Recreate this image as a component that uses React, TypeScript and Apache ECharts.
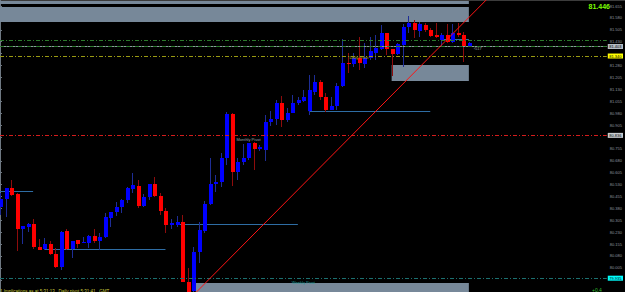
import { useEffect, useRef } from 'react';
import * as echarts from 'echarts';

// ---- candle data (index 0..85), prices ----
const candleOpen = [80.389, 80.439, 80.509, 80.471, 80.250, 80.263, 80.282, 80.137, 80.124, 80.156, 80.093, 80.011, 80.238, 80.124, 80.181, 80.162, 80.162, 80.206, 80.175, 80.200, 80.320, 80.357, 80.389, 80.433, 80.502, 80.521, 80.395, 80.452, 80.534, 80.458, 80.364, 80.276, 80.276, 80.294, 79.916, 79.860, 80.105, 80.238, 80.408, 80.534, 80.546, 80.698, 80.975, 80.609, 80.672, 80.698, 80.792, 80.754, 80.748, 80.924, 80.943, 81.044, 80.937, 80.981, 81.044, 81.057, 80.994, 81.113, 81.176, 81.082, 81.000, 81.025, 81.151, 81.299, 81.290, 81.328, 81.290, 81.328, 81.359, 81.384, 81.485, 81.384, 81.353, 81.410, 81.523, 81.548, 81.498, 81.536, 81.504, 81.473, 81.441, 81.473, 81.428, 81.485, 81.473, 81.403];
const candleClose = [80.439, 80.509, 80.465, 80.250, 80.269, 80.282, 80.137, 80.118, 80.156, 80.093, 80.011, 80.231, 80.124, 80.175, 80.156, 80.168, 80.206, 80.175, 80.200, 80.326, 80.357, 80.389, 80.433, 80.509, 80.528, 80.395, 80.452, 80.534, 80.458, 80.364, 80.276, 80.288, 80.294, 79.916, 79.853, 80.105, 80.244, 80.408, 80.534, 80.546, 80.698, 80.975, 80.609, 80.672, 80.698, 80.792, 80.754, 80.767, 80.924, 80.943, 81.044, 80.937, 80.981, 81.044, 81.063, 81.082, 81.126, 81.176, 81.082, 81.000, 81.025, 81.151, 81.296, 81.293, 81.328, 81.296, 81.328, 81.372, 81.391, 81.485, 81.384, 81.353, 81.416, 81.523, 81.548, 81.504, 81.542, 81.504, 81.466, 81.460, 81.473, 81.428, 81.485, 81.473, 81.397, 81.422];
const candleLow = [80.339, 80.326, 80.458, 80.112, 80.156, 80.231, 80.124, 80.118, 80.118, 80.087, 80.005, 79.992, 80.118, 80.068, 80.131, 80.162, 80.131, 80.162, 80.118, 80.194, 80.263, 80.332, 80.351, 80.414, 80.477, 80.383, 80.389, 80.433, 80.452, 80.339, 80.225, 80.250, 80.263, 79.916, 79.853, 79.853, 80.036, 80.225, 80.402, 80.483, 80.515, 80.654, 80.521, 80.559, 80.654, 80.685, 80.622, 80.742, 80.679, 80.899, 80.906, 80.893, 80.924, 80.981, 81.032, 81.050, 80.969, 81.095, 81.063, 80.987, 81.000, 81.000, 81.145, 81.233, 81.271, 81.252, 81.265, 81.315, 81.315, 81.378, 81.347, 81.214, 81.347, 81.271, 81.485, 81.454, 81.460, 81.491, 81.460, 81.454, 81.397, 81.422, 81.422, 81.460, 81.302, 81.397];
const candleHigh = [80.477, 80.509, 80.559, 80.477, 80.269, 80.288, 80.313, 80.187, 80.194, 80.175, 80.131, 80.238, 80.250, 80.175, 80.181, 80.200, 80.213, 80.250, 80.225, 80.351, 80.357, 80.420, 80.439, 80.515, 80.603, 80.559, 80.471, 80.534, 80.578, 80.477, 80.383, 80.313, 80.332, 80.339, 80.005, 80.137, 80.294, 80.427, 80.698, 80.591, 80.729, 80.987, 80.981, 80.698, 80.786, 80.792, 80.798, 80.780, 80.969, 80.994, 81.063, 81.088, 81.013, 81.095, 81.082, 81.126, 81.221, 81.221, 81.189, 81.107, 81.082, 81.170, 81.447, 81.359, 81.359, 81.460, 81.422, 81.460, 81.473, 81.536, 81.485, 81.384, 81.422, 81.542, 81.592, 81.567, 81.554, 81.548, 81.517, 81.548, 81.485, 81.542, 81.542, 81.548, 81.491, 81.428];

// ---- price axis ----
const yMin = 79.853;
const yMax = 81.693;
const xSlots = 110;
const yTicks = [81.655, 81.58, 81.505, 81.43, 81.355, 81.28, 81.205, 81.13, 81.055, 80.98, 80.905, 80.83, 80.755, 80.68, 80.605, 80.53, 80.455, 80.38, 80.305, 80.23, 80.155, 80.08, 80.005, 79.93];
// labels hidden under the level boxes in the reference are left out
const yTickLabels = [81.655, 81.58, 81.505, 81.43, 81.28, 81.205, 81.13, 81.055, 80.98, 80.905, 80.755, 80.68, 80.605, 80.53, 80.455, 80.38, 80.305, 80.23, 80.155, 80.08, 80.005];

// ---- zones (rectangles) ----
const zoneStart = [0, 0, 71, 35.5];
const zoneEnd = [85, 85, 85, 85];
const zoneTop = [81.687, 81.649, 81.284, 79.91];
const zoneBottom = [81.668, 81.554, 81.183, 79.853];

// ---- horizontal segments ----
const segStart = [0, 8, 32, 56, 80];
const segEnd = [6, 30, 54, 78, 85];
const segLevel = [80.49, 80.124, 80.282, 80.994, 81.447];

// ---- full-width levels ----
const levelNames = ['upper', 'bid', 'lower', 'daily', 'monthly', 'weekly'];
const levelValues = [81.441, 81.403, 81.397, 81.34, 80.836, 79.935];

// ---- trend line ----
const trendX = [35.62, 88.14];
const trendY = [79.853, 81.693];

// ---- notes ----
const noteText = ['Monthly Pivot', 'Daily Pivot', 'Weekly Pivot', '‹517'];
const noteX = [45.05, 65.07, 55.0, 86.6];
const noteY = [80.815, 81.328, 79.915, 81.386];

const bidText = '81.446';
const footerText = '1 Implications as at 5:31:13 , Daily pivot 5:31:41 , GMT';
const spreadText = '+0.4';

const FONT = 'Liberation Sans';
const DASHDOT = [4, 2, 1, 2];

const levelStyle: Record<string, any> = {
  upper: { color: '#2d7a2d', type: DASHDOT, box: null },
  bid: { color: '#8a949e', type: 'solid', box: { bg: '#b4bcc4', fg: '#000' } },
  lower: { color: '#2d7a2d', type: DASHDOT, box: null },
  daily: { color: '#9a9a12', type: DASHDOT, box: { bg: '#ffff00', fg: '#000' } },
  monthly: { color: '#d41c1c', type: DASHDOT, box: { bg: '#c8ccd0', fg: '#000' } },
  weekly: { color: '#1b7070', type: DASHDOT, box: { bg: '#00ffff', fg: '#000' } },
};
const noteColors = ['#9aa0a6', '#b4b42a', '#1e9a9a', '#9aa0a6'];

export default function App() {
  const ref = useRef<HTMLDivElement>(null);
  useEffect(() => {
    document.body.style.margin = '0';
    document.body.style.background = '#000';
    if (!ref.current) return;
    const chart = echarts.init(ref.current, undefined, { renderer: 'svg' });

    const candleData = candleOpen.map((o, i) => [i, o, candleClose[i], candleLow[i], candleHigh[i]]);
    const zoneData = zoneStart.map((s, i) => [s, zoneEnd[i], zoneTop[i], zoneBottom[i]]);
    const segData = segStart.map((s, i) => [s, segEnd[i], segLevel[i]]);
    const noteData = noteX.map((x, i) => [x, noteY[i]]);

    const markData = levelValues.map((v, i) => {
      const st = levelStyle[levelNames[i]];
      return {
        yAxis: v,
        lineStyle: { color: st.color, type: st.type, width: 1 },
        label: st.box
          ? {
              show: true,
              position: 'end',
              distance: 1,
              formatter: v.toFixed(3),
              fontSize: 4,
              fontFamily: FONT,
              color: st.box.fg,
              backgroundColor: st.box.bg,
              padding: [0.5, 1.5],
            }
          : { show: false },
      };
    });

    chart.setOption({
      animation: false,
      backgroundColor: '#000',
      grid: { left: 0, right: 13.5, top: 0, bottom: 0 },
      xAxis: { type: 'value', min: 0, max: xSlots, show: false },
      yAxis: {
        type: 'value',
        position: 'right',
        min: yMin,
        max: yMax,
        axisLine: { show: true, lineStyle: { color: '#6e7882', width: 1 } },
        axisTick: { show: true, length: 2, customValues: yTicks, lineStyle: { color: '#6e7882' } },
        axisLabel: {
          show: true,
          customValues: yTickLabels,
          formatter: (v: number) => v.toFixed(3),
          fontSize: 4,
          fontFamily: FONT,
          color: '#8e979f',
          margin: 3,
        },
        splitLine: { show: false },
      },
      series: [
        {
          type: 'custom',
          name: 'zones',
          z: 1,
          silent: true,
          data: zoneData,
          renderItem: (params: any, api: any) => {
            const a = api.coord([api.value(0), api.value(2)]);
            const b = api.coord([api.value(1), api.value(3)]);
            return {
              type: 'rect',
              shape: { x: a[0], y: a[1], width: b[0] - a[0], height: b[1] - a[1] },
              style: { fill: '#778899' },
            };
          },
        },
        {
          type: 'custom',
          name: 'segments',
          z: 2,
          silent: true,
          data: segData,
          renderItem: (params: any, api: any) => {
            const a = api.coord([api.value(0), api.value(2)]);
            const b = api.coord([api.value(1), api.value(2)]);
            const y = Math.round(a[1]) + 0.5;
            return {
              type: 'line',
              shape: { x1: a[0], y1: y, x2: b[0], y2: y },
              style: { stroke: '#2e6da4', lineWidth: 1 },
            };
          },
        },
        {
          type: 'line',
          name: 'levels',
          z: 3,
          data: [],
          markLine: {
            silent: true,
            animation: false,
            symbol: ['none', 'none'],
            data: markData,
          },
        },
        {
          type: 'custom',
          name: 'candles',
          z: 4,
          silent: true,
          data: candleData,
          renderItem: (params: any, api: any) => {
            const i = api.value(0);
            const o = api.value(1);
            const c = api.value(2);
            const l = api.value(3);
            const h = api.value(4);
            const pO = api.coord([i, o]);
            const pC = api.coord([i, c]);
            const pL = api.coord([i, l]);
            const pH = api.coord([i, h]);
            const bull = c >= o;
            const cx = Math.round(pO[0]);
            const top = Math.round(Math.min(pO[1], pC[1]));
            const bot = Math.round(Math.max(pO[1], pC[1]));
            return {
              type: 'group',
              children: [
                {
                  type: 'line',
                  shape: { x1: cx + 0.5, y1: Math.round(pH[1]), x2: cx + 0.5, y2: Math.round(pL[1]) },
                  style: { stroke: bull ? '#1e2d96' : '#8e0c0c', lineWidth: 1 },
                },
                {
                  type: 'rect',
                  shape: { x: cx - 1, y: top, width: 4, height: Math.max(1, bot - top) },
                  style: { fill: bull ? '#0000ff' : '#ff0000' },
                },
              ],
            };
          },
        },
        {
          type: 'line',
          name: 'trend',
          z: 5,
          silent: true,
          symbol: 'none',
          data: trendX.map((x, i) => [x, trendY[i]]),
          lineStyle: { color: '#ff1414', width: 1 },
        },
        {
          type: 'custom',
          name: 'notes',
          z: 6,
          silent: true,
          data: noteData,
          renderItem: (params: any, api: any) => {
            const p = api.coord([api.value(0), api.value(1)]);
            const k = params.dataIndex;
            return {
              type: 'text',
              x: p[0],
              y: p[1],
              style: {
                text: noteText[k],
                fill: noteColors[k],
                fontSize: 4,
                fontFamily: FONT,
                align: 'center',
                verticalAlign: 'middle',
              },
            };
          },
        },
      ],
      graphic: [
        { type: 'line', shape: { x1: 0, y1: 0.5, x2: 625, y2: 0.5 }, style: { stroke: '#3c3c3c', lineWidth: 1 }, z: 0 },
        {
          type: 'text',
          x: 610,
          y: 6.5,
          z: 10,
          style: { text: bidText, fill: '#7cfc00', fontSize: 7, fontWeight: 'bold', fontFamily: FONT, align: 'right', verticalAlign: 'middle' },
        },
        {
          type: 'text',
          x: 0,
          y: 288.5,
          z: 10,
          style: { text: footerText, fill: '#c8c83c', fontSize: 4.5, fontFamily: FONT, align: 'left', verticalAlign: 'top' },
        },
        {
          type: 'text',
          x: 592,
          y: 287.5,
          z: 10,
          style: { text: spreadText, fill: '#2fbf2f', fontSize: 5, fontFamily: FONT, align: 'left', verticalAlign: 'top' },
        },
      ],
    });
    return () => chart.dispose();
  }, []);
  return (
    <div
      ref={ref}
      style={{ position: 'absolute', left: 0, top: 0, width: 625, height: 292, background: '#000' }}
    />
  );
}
